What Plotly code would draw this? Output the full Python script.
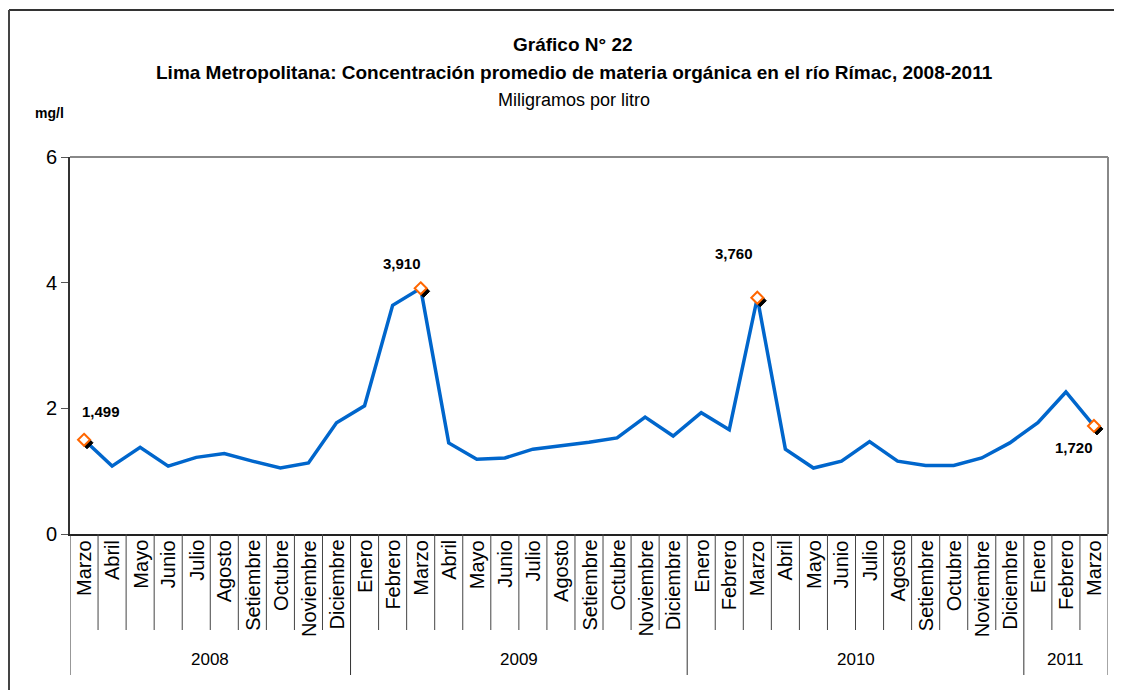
import plotly.graph_objects as go

# ---------------- data ----------------
months = ["Marzo", "Abril", "Mayo", "Junio", "Julio", "Agosto", "Setiembre", "Octubre", "Noviembre", "Diciembre",
          "Enero", "Febrero", "Marzo", "Abril", "Mayo", "Junio", "Julio", "Agosto", "Setiembre", "Octubre", "Noviembre", "Diciembre",
          "Enero", "Febrero", "Marzo", "Abril", "Mayo", "Junio", "Julio", "Agosto", "Setiembre", "Octubre", "Noviembre", "Diciembre",
          "Enero", "Febrero", "Marzo"]
years = ["2008", "2009", "2010", "2011"]
year_counts = [10, 12, 12, 3]
values = [1.499, 1.08, 1.38, 1.08, 1.22, 1.28, 1.16, 1.05, 1.13, 1.77,
          2.04, 3.64, 3.910, 1.45, 1.19, 1.21, 1.35, 1.40, 1.46, 1.53, 1.86, 1.56,
          1.93, 1.66, 3.760, 1.35, 1.05, 1.16, 1.47, 1.16, 1.09, 1.09, 1.21, 1.45,
          1.77, 2.26, 1.720]
highlight_idx = [0, 12, 24, 36]
highlight_labels = ["1,499", "3,910", "3,760", "1,720"]
label_shift = [(17, 28), (-19, 25), (-23, 44), (-20, -22)]

# ---------------- layout constants (page pixel coordinates) ----------------
OFF = 8                      # page body margin
W, H = 1122 - OFF, 690 - OFF  # figure size
L, R, T, B = 70, 1108, 157, 534   # plot area on the page
PW, PH = R - L, B - T


def px_x(p):
    return (p - L) / PW


def px_y(p):
    return (B - p) / PH


NARROW = "Liberation Sans Narrow, Arial Narrow, Liberation Sans, Arial, sans-serif"
REG = "Liberation Sans, Arial, sans-serif"

x = list(range(len(values)))

fig = go.Figure()
fig.add_trace(go.Scatter(x=x, y=values, mode="lines",
                         line=dict(color="#0066CC", width=3.5),
                         hoverinfo="skip", showlegend=False))

shapes = []
annotations = []

# highlighted markers (black shadow + orange open diamond)
for i, lab, (dx, dy) in zip(highlight_idx, highlight_labels, label_shift):
    v = values[i]
    s = 6
    o = 3
    shapes.append(dict(type="path", xref="x", yref="y", xsizemode="pixel", ysizemode="pixel",
                       xanchor=i, yanchor=v, layer="above",
                       path=f"M {o},{-o + s} L {o + s},{-o} L {o},{-o - s} L {o - s},{-o} Z",
                       fillcolor="black", line=dict(color="black", width=1)))
    shapes.append(dict(type="path", xref="x", yref="y", xsizemode="pixel", ysizemode="pixel",
                       xanchor=i, yanchor=v, layer="above",
                       path=f"M 0,{s} L {s},0 L 0,{-s} L {-s},0 Z",
                       fillcolor="white", line=dict(color="#FF6600", width=2)))
    annotations.append(dict(x=i, y=v, xref="x", yref="y", text=lab, showarrow=False,
                            xshift=dx, yshift=dy,
                            font=dict(family=NARROW, size=15, color="black", weight="bold")))

# month separators and labels
idx = 0
bounds = [-0.5]
for c in year_counts:
    idx += c
    bounds.append(idx - 0.5)
for k in range(len(months) - 1):
    b = k + 0.5
    if b in bounds:
        continue
    shapes.append(dict(type="line", xref="x", yref="paper", x0=b, x1=b, y0=0, y1=px_y(630),
                       line=dict(color="#444444", width=1)))
for b in bounds:
    last = b == bounds[-1]
    shapes.append(dict(type="line", xref="x", yref="paper", x0=b, x1=b, y0=0, y1=px_y(675),
                       line=dict(color="#888888" if last else "#333333", width=1.5 if last else 1)))
for k, m in enumerate(months):
    annotations.append(dict(x=k, y=px_y(538), xref="x", yref="paper", text=m, showarrow=False,
                            textangle=-90, xanchor="center", yanchor="top",
                            font=dict(family=NARROW, size=20, color="black")))
for j, yr in enumerate(years):
    annotations.append(dict(x=(bounds[j] + bounds[j + 1]) / 2, y=px_y(659), xref="x", yref="paper",
                            text=yr, showarrow=False, xanchor="center", yanchor="middle",
                            font=dict(family=NARROW, size=17, color="black")))

# plot border (gray top & right)
shapes.append(dict(type="line", xref="paper", yref="paper", x0=0, x1=1, y0=1, y1=1,
                   line=dict(color="#888888", width=2)))
shapes.append(dict(type="line", xref="paper", yref="paper", x0=1, x1=1, y0=0, y1=1,
                   line=dict(color="#888888", width=2)))
# outer frame
shapes.append(dict(type="line", xref="paper", yref="paper", x0=px_x(9), x1=px_x(1122), y0=px_y(10), y1=px_y(10),
                   line=dict(color="#333333", width=2)))
shapes.append(dict(type="line", xref="paper", yref="paper", x0=px_x(9), x1=px_x(9), y0=px_y(10), y1=px_y(690),
                   line=dict(color="#444444", width=2)))

# titles
annotations += [
    dict(x=px_x(573), y=px_y(45), xref="paper", yref="paper", text="Gráfico N° 22", showarrow=False,
         xanchor="center", yanchor="middle", font=dict(family=REG, size=19, color="black", weight="bold")),
    dict(x=px_x(574), y=px_y(73), xref="paper", yref="paper",
         text="Lima Metropolitana: Concentración promedio de materia orgánica en el río Rímac, 2008-2011",
         showarrow=False, xanchor="center", yanchor="middle",
         font=dict(family=REG, size=19, color="black", weight="bold")),
    dict(x=px_x(574), y=px_y(100), xref="paper", yref="paper", text="Miligramos por litro", showarrow=False,
         xanchor="center", yanchor="middle", font=dict(family=REG, size=18, color="black")),
    dict(x=px_x(33), y=px_y(113), xref="paper", yref="paper", text="mg/l", showarrow=False,
         xanchor="left", yanchor="middle", font=dict(family=NARROW, size=14, color="black", weight="bold")),
]

fig.update_layout(
    width=W, height=H,
    margin=dict(l=L - OFF, r=(W + OFF) - R, t=T - OFF, b=(H + OFF) - B, pad=0),
    paper_bgcolor="white", plot_bgcolor="white",
    showlegend=False,
    shapes=shapes, annotations=annotations,
    xaxis=dict(range=[-0.5, len(values) - 0.5], showticklabels=False, ticks="", showgrid=False,
               zeroline=False, showline=True, linecolor="#222222", linewidth=2, fixedrange=True),
    yaxis=dict(range=[0, 6], tickvals=[0, 2, 4, 6], ticktext=["0", "2", "4", "6"], ticks="outside",
               ticklen=7, tickcolor="#555555", tickwidth=1, showgrid=False, zeroline=False,
               showline=True, linecolor="#333333", linewidth=2,
               tickfont=dict(family=NARROW, size=20, color="black"), fixedrange=True),
)

fig.write_html("out.html")
